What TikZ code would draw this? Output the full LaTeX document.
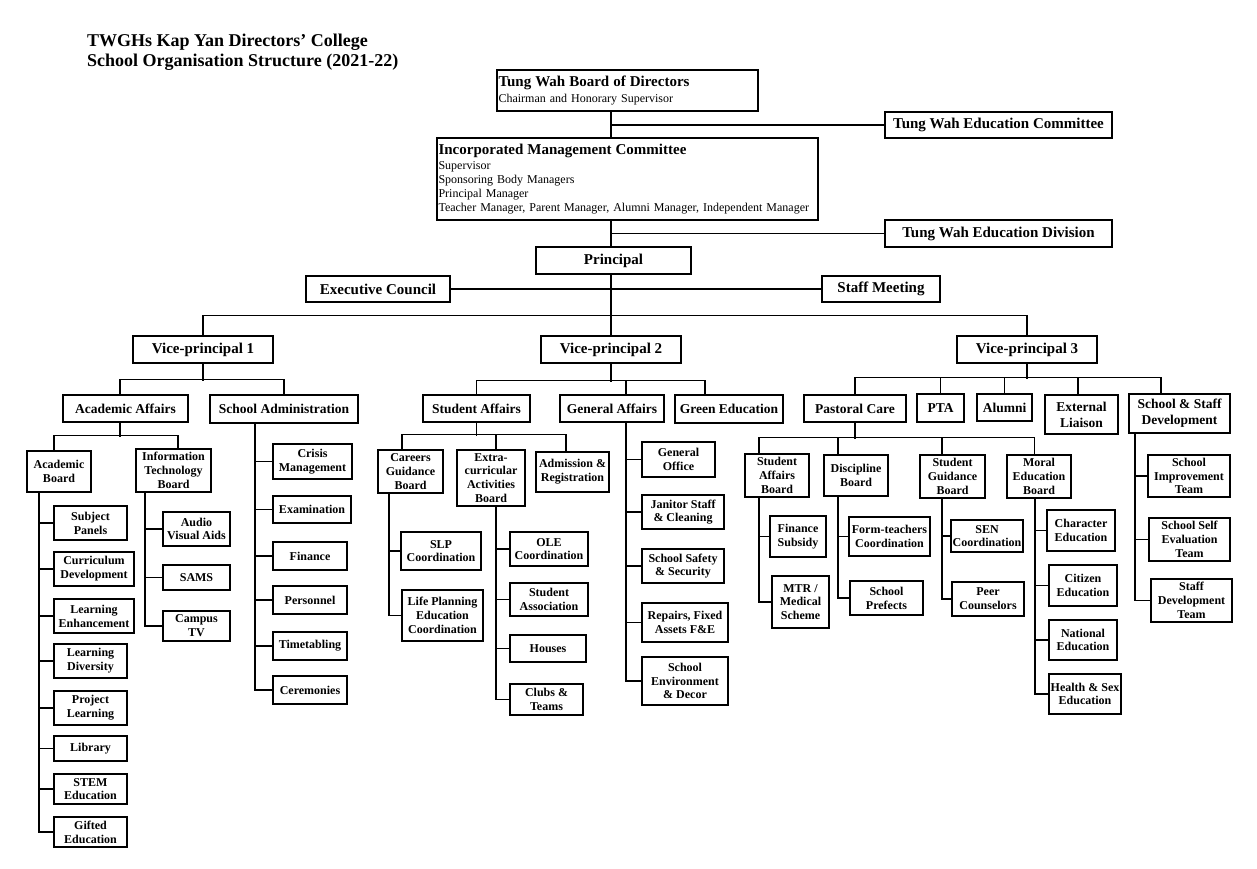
\documentclass[tikz,border=0pt]{standalone}
\usepackage{fontspec}
\setmainfont{Liberation Serif}
\newcommand\obox[7][]{\node[obx,minimum width={(#5-#3)*1pt},minimum height={(#6-#4)*1pt},#1] (#2) at ({(#3+#5)/2},{(#4+#6)/2}) {#7};}
\tikzset{
  obx/.style={draw, line width=1.1pt, inner sep=0pt, align=center, font=\fontsize{12}{13.8}\selectfont\bfseries},
  lvA/.style={font=\fontsize{15}{17}\selectfont\bfseries},
  lvB/.style={font=\fontsize{13.5}{16}\selectfont\bfseries},
  conn/.style={line width=1.1pt},
  ttl/.style={anchor=base west, inner sep=0pt, font=\fontsize{18}{20}\selectfont\bfseries},
  leftbox/.style={align=left, inner xsep=1.5pt, font=\fontsize{12}{14}\selectfont},
}
\begin{document}
\begin{tikzpicture}[x=1pt,y=-1pt]
\fill[white] (0,0) rectangle (1257,869);
\useasboundingbox (0,0) rectangle (1257,869);

% title
\node[ttl] (title1) at (87,47) {TWGHs Kap Yan Directors’ College};
\node[ttl] (title2) at (87,67) {School Organisation Structure (2021-22)};

% top level
\obox[leftbox,text width=258pt]{bod}{497}{70}{758}{111}{{\fontsize{15}{17}\selectfont\bfseries Tung Wah Board of Directors}\\[1.5pt]Chairman and Honorary Supervisor}
\obox[lvA]{twec}{885}{112}{1112}{138}{Tung Wah Education Committee}
\obox[leftbox,text width=378pt]{imc}{437}{138}{818}{220}{{\fontsize{15}{17}\selectfont\bfseries Incorporated Management Committee}\\[0.6pt]Supervisor\\Sponsoring Body Managers\\Principal Manager\\Teacher Manager, Parent Manager, Alumni Manager, Independent Manager}
\obox[lvA]{twed}{885}{220}{1112}{247}{Tung Wah Education Division}
\obox[lvA]{principal}{536}{247}{691}{274}{Principal}
\obox[lvA]{exec}{306}{276}{450}{302}{Executive Council}
\obox[lvA]{staff}{822}{276}{940}{302}{Staff Meeting}
\obox[lvA]{vp1}{133}{336}{273}{363}{Vice-principal 1}
\obox[lvA]{vp2}{541}{336}{681}{363}{Vice-principal 2}
\obox[lvA]{vp3}{957}{336}{1097}{363}{Vice-principal 3}

% VP1 branch
\obox[lvB]{aa}{63}{395}{188}{422}{Academic Affairs}
\obox[lvB]{sadm}{210}{395}{358}{423}{School Administration}
\obox{acb}{27}{451}{91}{492}{Academic\\Board}
\obox{itb}{136}{449}{211}{492}{Information\\Technology\\Board}
\obox{subj}{54}{506}{127}{540}{Subject\\Panels}
\obox{curr}{54}{552}{134}{586}{Curriculum\\Development}
\obox{lenh}{54}{599}{134}{633}{Learning\\Enhancement}
\obox{ldiv}{54}{644}{127}{678}{Learning\\Diversity}
\obox{proj}{54}{691}{127}{725}{Project\\Learning}
\obox{lib}{54}{736}{127}{761}{Library}
\obox{stem}{54}{774}{127}{804}{STEM\\Education}
\obox{gift}{54}{817}{127}{847}{Gifted\\Education}
\obox{ava}{163}{512}{230}{546}{Audio\\Visual Aids}
\obox{sams}{163}{565}{230}{590}{SAMS}
\obox{ctv}{163}{611}{230}{641}{Campus\\TV}
\obox{crisis}{273}{444}{352}{479}{Crisis\\Management}
\obox{exam}{273}{496}{351}{523}{Examination}
\obox{fin}{273}{542}{347}{570}{Finance}
\obox{pers}{273}{586}{347}{614}{Personnel}
\obox{time}{273}{632}{347}{660}{Timetabling}
\obox{cere}{273}{676}{347}{704}{Ceremonies}

% VP2 branch
\obox[lvB]{sa}{423}{395}{530}{422}{Student Affairs}
\obox[lvB]{ga}{560}{395}{664}{422}{General Affairs}
\obox[lvB]{green}{675}{395}{783}{423}{Green Education}
\obox{careers}{378}{450}{443}{493}{Careers\\Guidance\\Board}
\obox{eca}{457}{450}{525}{506}{Extra-\\curricular\\Activities\\Board}
\obox{adm}{536}{452}{609}{492}{Admission \&\\Registration}
\obox{slp}{401}{532}{481}{570}{SLP\\Coordination}
\obox{lpe}{402}{590}{483}{641}{Life Planning\\Education\\Coordination}
\obox{ole}{510}{532}{588}{566}{OLE\\Coordination}
\obox{stua}{510}{583}{588}{616}{Student\\Association}
\obox{houses}{510}{635}{586}{662}{Houses}
\obox{clubs}{510}{684}{583}{715}{Clubs \&\\Teams}
\obox{goff}{642}{442}{715}{477}{General\\Office}
\obox{jan}{642}{495}{724}{529}{Janitor Staff\\\& Cleaning}
\obox{safety}{642}{549}{724}{583}{School Safety\\\& Security}
\obox{repairs}{642}{603}{728}{642}{Repairs, Fixed\\Assets F\&E}
\obox{env}{642}{657}{728}{705}{School\\Environment\\\& Decor}

% VP3 branch
\obox[lvB]{pc}{804}{395}{906}{422}{Pastoral Care}
\obox[lvB]{pta}{917}{394}{964}{422}{PTA}
\obox[lvB]{alumni}{977}{394}{1032}{421}{Alumni}
\obox[lvB]{ext}{1045}{395}{1118}{434}{External\\Liaison}
\obox[lvB]{ssd}{1129}{394}{1230}{433}{School \& Staff\\Development}
\obox{sab}{745}{454}{809}{497}{Student\\Affairs\\Board}
\obox{disc}{824}{455}{888}{496}{Discipline\\Board}
\obox{sgb}{920}{455}{985}{498}{Student\\Guidance\\Board}
\obox{meb}{1007}{455}{1071}{498}{Moral\\Education\\Board}
\obox{finsub}{770}{516}{826}{557}{Finance\\Subsidy}
\obox{mtr}{772}{576}{829}{628}{MTR /\\Medical\\Scheme}
\obox{ftc}{849}{517}{930}{556}{Form-teachers\\Coordination}
\obox{pref}{850}{581}{923}{615}{School\\Prefects}
\obox{sen}{951}{520}{1023}{552}{SEN\\Coordination}
\obox{peer}{952}{582}{1024}{616}{Peer\\Counselors}
\obox{char}{1047}{510}{1115}{551}{Character\\Education}
\obox{citz}{1049}{565}{1117}{606}{Citizen\\Education}
\obox{natl}{1049}{620}{1117}{660}{National\\Education}
\obox{hse}{1049}{674}{1121}{714}{Health \& Sex\\Education}
\obox{sit}{1148}{455}{1230}{497}{School\\Improvement\\Team}
\obox{ssev}{1149}{518}{1230}{561}{School Self\\Evaluation\\Team}
\obox{sdt}{1151}{579}{1232}{622}{Staff\\Development\\Team}

% ---- connectors ----
\draw[conn] (bod.south -| vp2.north) -- (imc.north -| vp2.north);
\draw[conn] (twec.west) -- (twec.west -| vp2.north);
\draw[conn] (imc.south -| vp2.north) -- (principal.north -| vp2.north);
\draw[conn] (twed.west) -- (twed.west -| vp2.north);
\draw[conn] (principal.south -| vp2.north) -- (vp2.north);
\draw[conn] (exec.east) -- (staff.west);
\draw[conn] (vp1.north) -- ++(0,-20) -| (vp3.north);

% VP1
\draw[conn] (vp1.south) -- ++(0,17);
\draw[conn] ([xshift=-5.5pt]aa.north) -- ++(0,-15) -| (sadm.north);
\draw[conn] ([xshift=-5.5pt]aa.south) -- ++(0,14);
\draw[conn] ([xshift=-5pt]acb.north) -- ++(0,-15) -| ([xshift=4.5pt]itb.north);
\foreach \c in {subj,curr,lenh,ldiv,proj,lib,stem,gift}
  \draw[conn] ([xshift=-20pt]acb.south) |- (\c.west);
\foreach \c in {ava,sams,ctv}
  \draw[conn] ([xshift=-28.5pt]itb.south) |- (\c.west);
\foreach \c in {crisis,exam,fin,pers,time,cere}
  \draw[conn] ([xshift=-29pt]sadm.south) |- (\c.west);

% VP2
\draw[conn] (vp2.south) -- ++(0,18);
\draw[conn] (sa.north) -- ++(0,-14) -| ([xshift=-24pt]green.north);
\draw[conn] ([xshift=14pt]ga.north) -- ++(0,-14);
\draw[conn] (sa.south) -- ++(0,13);
\draw[conn] ([xshift=-8.5pt]careers.north) -- ++(0,-15) -| ([xshift=-6.5pt]adm.north);
\draw[conn] ([xshift=5pt]eca.north) -- ++(0,-15);
\foreach \c in {slp,lpe}
  \draw[conn] ([xshift=-21.5pt]careers.south) |- (\c.west);
\foreach \c in {ole,stua,houses,clubs}
  \draw[conn] ([xshift=5pt]eca.south) |- (\c.west);
\foreach \c in {goff,jan,safety,repairs,env}
  \draw[conn] ([xshift=14pt]ga.south) |- (\c.west);

% VP3
\draw[conn] (vp3.south) -- ++(0,15);
\draw[conn] (pc.north) -- ++(0,-17) -| ([xshift=-18.5pt]ssd.north);
\draw[conn] (pta.north) -- ++(0,-16);
\draw[conn] (alumni.north) -- ++(0,-16);
\draw[conn] ([xshift=-3.5pt]ext.north) -- ++(0,-17);
\draw[conn] (pc.south) -- ++(0,16);
\draw[conn] ([xshift=-18pt]sab.north) -- ++(0,-16) -| ([xshift=-4.5pt]meb.north);
\draw[conn] ([xshift=-18pt]disc.north) -- ++(0,-17);
\draw[conn] ([xshift=-10.5pt]sgb.north) -- ++(0,-17);
\foreach \c in {finsub,mtr}
  \draw[conn] ([xshift=-18pt]sab.south) |- (\c.west);
\foreach \c in {ftc,pref}
  \draw[conn] ([xshift=-18pt]disc.south) |- (\c.west);
\foreach \c in {sen,peer}
  \draw[conn] ([xshift=-10.5pt]sgb.south) |- (\c.west);
\foreach \c in {char,citz,natl,hse}
  \draw[conn] ([xshift=-4pt]meb.south) |- (\c.west);
\foreach \c in {sit,ssev,sdt}
  \draw[conn] ([xshift=-44.5pt]ssd.south) |- (\c.west);
\end{tikzpicture}
\end{document}
